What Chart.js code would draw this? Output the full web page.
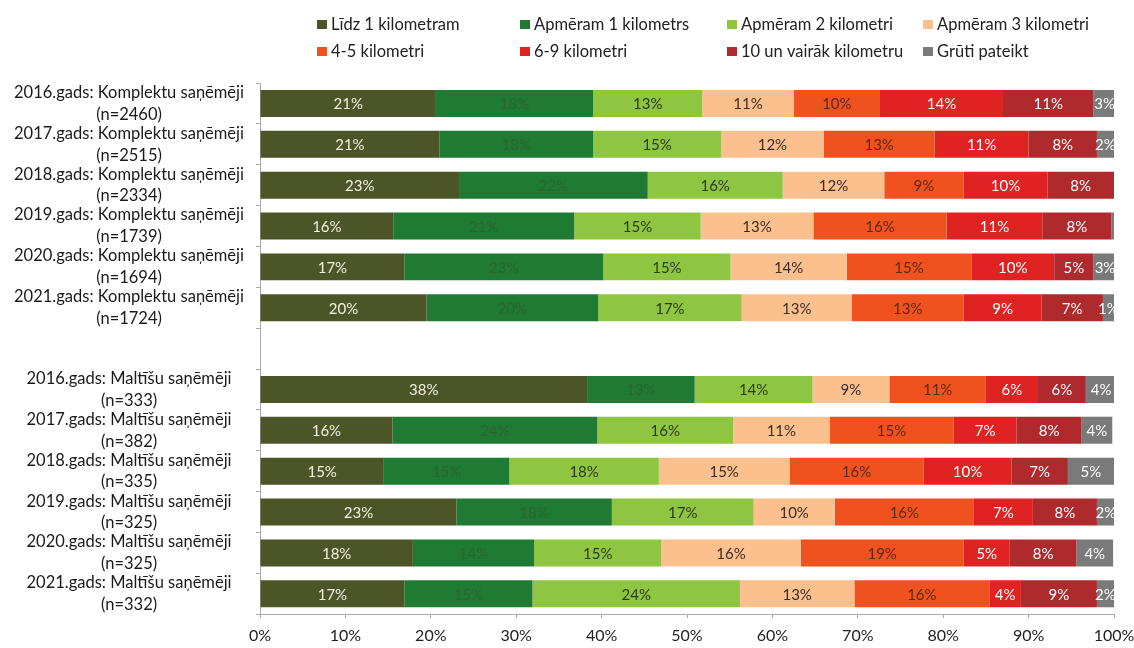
<!DOCTYPE html>
<html>
<head>
<meta charset="utf-8">
<script src="https://cdn.jsdelivr.net/npm/chart.js@4"></script>
<style>
  body { margin: 0; background: #fff; }
</style>
</head>
<body>
<canvas id="chart" width="1134" height="648"></canvas>
<script>
const years = [2016, 2017, 2018, 2019, 2020, 2021];
const komplektuN = [2460, 2515, 2334, 1739, 1694, 1724];
const maltisuN = [333, 382, 335, 325, 325, 332];

// one empty row separates the two groups
const lidz1 = [20.6, 21, 23.3, 15.6, 16.9, 19.5, null, 38.3, 15.5, 14.5, 23, 17.9, 16.9];
const apm1 = [18.4, 18, 22.1, 21.2, 23.3, 20.1, null, 12.6, 24, 14.7, 18.2, 14.2, 15];
const apm2 = [12.8, 15, 15.8, 14.8, 14.9, 16.8, null, 13.8, 15.9, 17.5, 16.6, 14.9, 24.3];
const apm3 = [10.7, 12, 11.9, 13.2, 13.6, 12.9, null, 9.0, 11.3, 15.3, 9.5, 16.3, 13.4];
const km45 = [10.1, 13, 9.3, 15.6, 14.6, 13.1, null, 11.3, 14.5, 15.7, 16.3, 19.1, 15.8];
const km69 = [14.4, 11, 9.8, 11.2, 9.7, 9.1, null, 6.1, 7.4, 10.3, 6.9, 5.4, 3.7];
const km10 = [10.6, 8, 7.8, 8.1, 4.6, 7.2, null, 5.6, 7.6, 6.6, 7.5, 7.8, 8.9];
const gruti = [2.6, 2, 0, 0.4, 2.7, 1.3, null, 3.6, 3.6, 5.4, 2.1, 4.3, 2.0];

const xTicks = [0, 10, 20, 30, 40, 50, 60, 70, 80, 90, 100];

const categories = [];
years.forEach((y, i) => categories.push([y + '.gads: Komplektu saņēmēji', '(n=' + komplektuN[i] + ')']));
categories.push('');
years.forEach((y, i) => categories.push([y + '.gads: Maltīšu saņēmēji', '(n=' + maltisuN[i] + ')']));

const FONT = 'Lato';

const series = [
    { label: 'Līdz 1 kilometram', data: lidz1, color: '#4b5528', text: '#f4f1e0' },
    { label: 'Apmēram 1 kilometrs', data: apm1, color: '#1f7a33', text: '#2a6630' },
    { label: 'Apmēram 2 kilometri', data: apm2, color: '#8ec641', text: '#2b3a1c' },
    { label: 'Apmēram 3 kilometri', data: apm3, color: '#fcc08e', text: '#3a2c20' },
    { label: '4-5 kilometri', data: km45, color: '#f0521f', text: '#5a2a14' },
    { label: '6-9 kilometri', data: km69, color: '#df2222', text: '#ffffff' },
    { label: '10 un vairāk kilometru', data: km10, color: '#ae2a2c', text: '#ffffff' },
    { label: 'Grūti pateikt', data: gruti, color: '#7a7a7a', text: '#ffffff' }
];

// percent labels in the middle of each segment
const segmentLabels = {
    id: 'segmentLabels',
    afterDatasetsDraw(chart) {
        const ctx = chart.ctx;
        ctx.save();
        ctx.font = '15px ' + FONT;
        ctx.textAlign = 'center';
        ctx.textBaseline = 'middle';
        chart.data.datasets.forEach((ds, di) => {
            const meta = chart.getDatasetMeta(di);
            meta.data.forEach((bar, i) => {
                const v = ds.data[i];
                if (v == null || v < 1) return;
                ctx.fillStyle = series[di].text;
                ctx.fillText(Math.round(v) + '%', (bar.x + bar.base) / 2, bar.y + 1);
            });
        });
        ctx.restore();
    }
};

// legend in a 4 x 2 grid above the plot
const gridLegend = {
    id: 'gridLegend',
    afterDraw(chart) {
        const ctx = chart.ctx;
        const cols = [317, 520, 727, 923];
        const rows = [25, 52];
        ctx.save();
        ctx.font = '16.5px ' + FONT;
        ctx.textBaseline = 'middle';
        ctx.textAlign = 'left';
        series.forEach((s, i) => {
            const x = cols[i % 4];
            const y = rows[Math.floor(i / 4)];
            ctx.fillStyle = s.color;
            ctx.fillRect(x, y - 5, 10, 9);
            ctx.fillStyle = '#222';
            ctx.fillText(s.label, x + 14, y);
        });
        ctx.restore();
    }
};

new Chart(document.getElementById('chart'), {
    type: 'bar',
    data: {
        labels: categories,
        datasets: series.map(s => ({
            label: s.label,
            data: s.data,
            backgroundColor: s.color,
            borderWidth: 0,
            barPercentage: 0.66,
            categoryPercentage: 1
        }))
    },
    options: {
        indexAxis: 'y',
        responsive: false,
        animation: false,
        devicePixelRatio: 1,
        layout: { padding: { top: 83, left: 10, right: 20, bottom: 0 } },
        plugins: {
            legend: { display: false },
            tooltip: { enabled: false }
        },
        scales: {
            x: {
                stacked: true,
                min: 0,
                max: 100,
                afterBuildTicks: (scale) => { scale.ticks = xTicks.map(v => ({ value: v })); },
                afterFit: (scale) => {
                    scale.height = 28;
                    scale.paddingLeft = 0;
                    scale.paddingRight = 0;
                },
                ticks: {
                    callback: (v) => v + '%',
                    color: '#222',
                    font: { family: FONT, size: 16 },
                    padding: 8,
                    maxRotation: 0
                },
                grid: { drawOnChartArea: false, tickLength: 4, color: '#aaa' },
                border: { color: '#aaa' }
            },
            y: {
                stacked: true,
                afterFit: (scale) => { scale.width = 250; },
                ticks: {
                    crossAlign: 'center',
                    color: '#1a1a1a',
                    font: { family: FONT, size: 16.5, lineHeight: 1.32 },
                    padding: 12,
                    autoSkip: false
                },
                grid: { drawOnChartArea: false, tickLength: 4, color: '#aaa', offset: true },
                border: { color: '#aaa' }
            }
        }
    },
    plugins: [segmentLabels, gridLegend]
});
</script>
</body>
</html>
